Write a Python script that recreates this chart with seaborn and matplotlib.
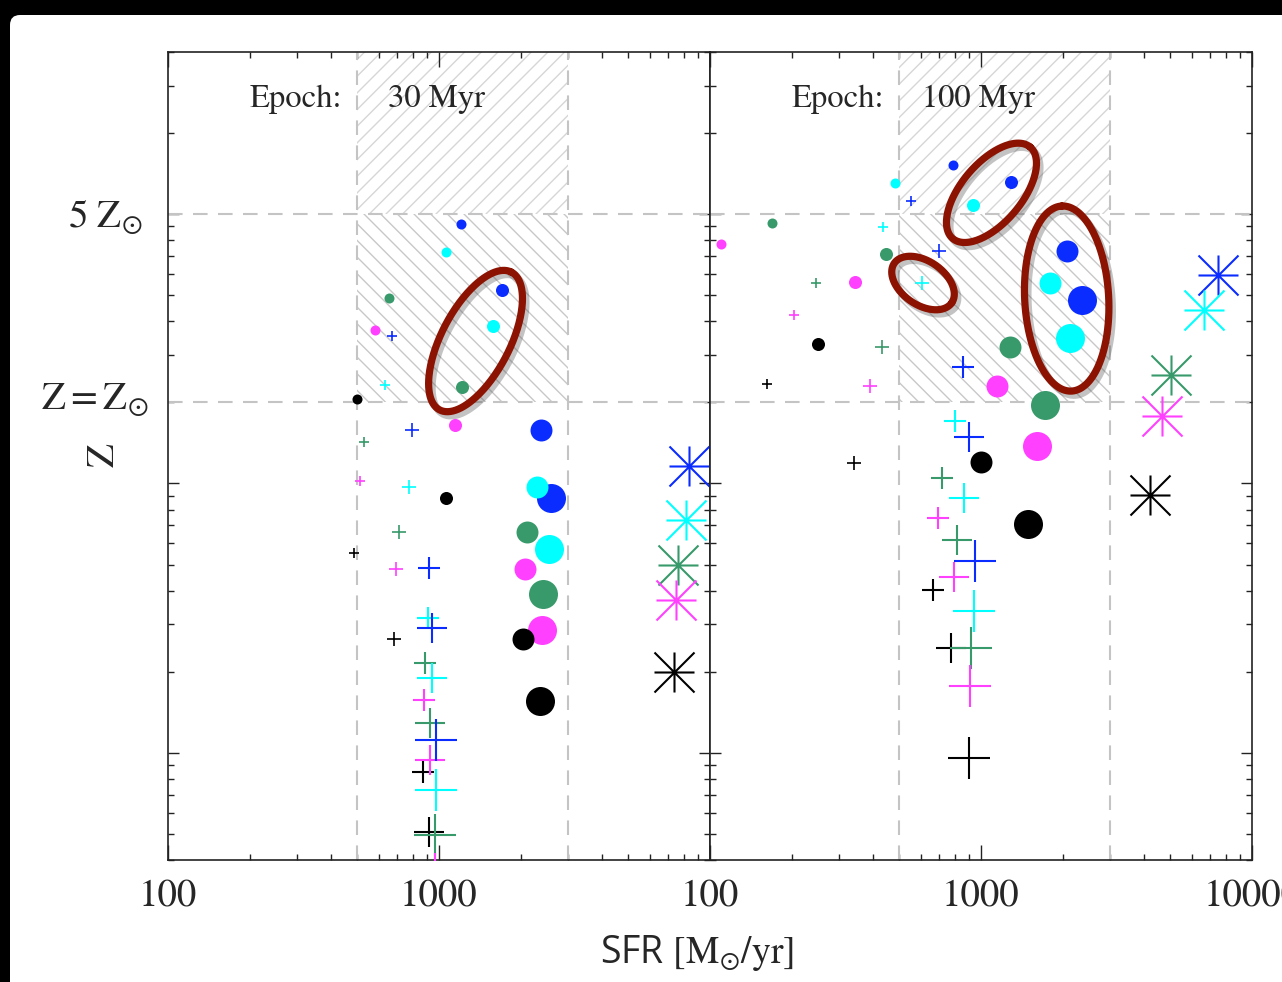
import numpy as np
import pandas as pd
import matplotlib
matplotlib.use('Agg')
import matplotlib.pyplot as plt
import matplotlib.patheffects as pe
from matplotlib.path import Path
from matplotlib.patches import Rectangle, FancyBboxPatch
from matplotlib.transforms import blended_transform_factory, ScaledTranslation
from matplotlib.ticker import FixedLocator, FixedFormatter, LogLocator, NullFormatter
import seaborn as sns

Z_SUN = 0.02

# marker kinds, in the order the values are listed below
kinds = ['dot_s', 'dot_m', 'plus_xs', 'plus_s', 'dot_l', 'dot_xl',
         'plus_m', 'plus_l', 'plus_xl', 'star']
models = ['blue', 'cyan', 'green', 'magenta', 'black']
palette = {'blue': '#0b2cff', 'cyan': '#00ffff', 'green': '#389a6b',
           'magenta': '#ff40ff', 'black': '#000000'}

# ---- Epoch 30 Myr : SFR [Msun/yr] and Z ----
sfr30_blue = [1210, 1715, 670, 795, 2370, 2600, 918, 946, 975, 8340]
z30_blue = [0.0918, 0.0524, 0.0352, 0.0158, 0.0158, 0.0088, 0.00484, 0.00291, 0.00112, 0.0116]
sfr30_cyan = [1065, 1585, 632, 774, 2300, 2550, 910, 941, 975, 8130]
z30_cyan = [0.0721, 0.0383, 0.0232, 0.0097, 0.0097, 0.0057, 0.00317, 0.0019, 0.00073, 0.0073]
sfr30_green = [653, 1214, 528, 712, 2114, 2417, 885, 926, 967, 7610]
z30_green = [0.0488, 0.0229, 0.0143, 0.0066, 0.0066, 0.0039, 0.00215, 0.00129, 0.000495, 0.0050]
sfr30_magenta = [579, 1142, 509, 694, 2077, 2401, 883, 923, 967, 7520]
z30_magenta = [0.0373, 0.0165, 0.0102, 0.0048, 0.0048, 0.00285, 0.00157, 0.00094, 0.000354, 0.0037]
sfr30_black = [497, 1062, 484, 680, 2033, 2367, 874, 921, np.nan, 7380]
z30_black = [0.0206, 0.0088, 0.0055, 0.00265, 0.00265, 0.00156, 0.00085, 0.00051, np.nan, 0.0020]

# ---- Epoch 100 Myr ----
sfr100_blue = [791, 1290, 551, 702, 2071, 2365, 860, 904, 953, 7505]
z100_blue = [0.152, 0.132, 0.112, 0.0729, 0.0729, 0.0481, 0.0271, 0.0149, 0.00517, 0.0594]
sfr100_cyan = [483, 936, 434, 606, 1793, 2138, 805, 868, 942, 6633]
z100_cyan = [0.130, 0.1085, 0.0895, 0.0553, 0.0557, 0.0348, 0.01705, 0.00884, 0.00335, 0.0442]
sfr100_green = [169, 446, 246, 432, 1275, 1726, 718, 815, 921, 5042]
z100_green = [0.0926, 0.0713, 0.0557, 0.0322, 0.0322, 0.0195, 0.01046, 0.00618, 0.00244, 0.0252]
sfr100_magenta = [110, 344, 204, 388, 1142, 1609, 693, 794, 912, 4648]
z100_magenta = [0.0776, 0.056, 0.0424, 0.0231, 0.0231, 0.0138, 0.00742, 0.0045, 0.00177, 0.0178]
sfr100_black = [np.nan, 251, 162, 341, 1003, 1492, 663, 777, 901, 4214]
z100_black = [np.nan, 0.0329, 0.0234, 0.0119, 0.0120, 0.00708, 0.00403, 0.00246, 0.00096, 0.00907]

# highlighted groups: centre SFR, centre Z, semi-axes (dex), angle (deg)
ell30 = [(1364, 0.0338, 0.288, 0.126, 62.7)]
ell100 = [(1093, 0.120, 0.222, 0.111, 50.0),
          (611, 0.0555, 0.129, 0.081, -35.0),
          (2071, 0.0486, 0.344, 0.155, 93.0)]


def build(epoch, sfrs, zs):
    frames = []
    for m in models:
        frames.append(pd.DataFrame({'epoch': epoch, 'model': m, 'kind': kinds,
                                    'sfr': sfrs[m], 'z': zs[m]}))
    return pd.concat(frames)


df = pd.concat([
    build('30 Myr',
          {'blue': sfr30_blue, 'cyan': sfr30_cyan, 'green': sfr30_green,
           'magenta': sfr30_magenta, 'black': sfr30_black},
          {'blue': z30_blue, 'cyan': z30_cyan, 'green': z30_green,
           'magenta': z30_magenta, 'black': z30_black}),
    build('100 Myr',
          {'blue': sfr100_blue, 'cyan': sfr100_cyan, 'green': sfr100_green,
           'magenta': sfr100_magenta, 'black': sfr100_black},
          {'blue': z100_blue, 'cyan': z100_cyan, 'green': z100_green,
           'magenta': z100_magenta, 'black': z100_black}),
]).dropna()

# asterisk marker: horizontal, vertical and two diagonal bars
star = Path([(-1, 0), (1, 0), (0, -1), (0, 1), (-1, -1), (1, 1), (-1, 1), (1, -1)],
            [Path.MOVETO, Path.LINETO] * 4)
style = {
    'dot_xl': dict(marker='o', s=436, linewidth=0),
    'dot_l': dict(marker='o', s=250, linewidth=0),
    'dot_m': dict(marker='o', s=88, linewidth=0),
    'dot_s': dict(marker='o', s=52, linewidth=0),
    'plus_xs': dict(marker='+', s=52, linewidth=1.2),
    'plus_s': dict(marker='+', s=94, linewidth=1.2),
    'plus_m': dict(marker='+', s=274, linewidth=1.5),
    'plus_l': dict(marker='+', s=467, linewidth=1.5),
    'plus_xl': dict(marker='+', s=872, linewidth=1.5),
    'star': dict(marker=star, s=830, linewidth=1.5),
}

sns.set_theme(style='ticks')
plt.rcParams['font.family'] = ['STIXGeneral', 'DejaVu Serif']
plt.rcParams['mathtext.fontset'] = 'stix'
plt.rcParams['hatch.linewidth'] = 1.0

fig = plt.figure(figsize=(12.82, 9.82), dpi=100)
fig.patch.set_facecolor('black')
card = FancyBboxPatch((0.10, -0.5), 13.5, 10.17,
                      boxstyle='round,pad=0,rounding_size=0.1',
                      transform=fig.dpi_scale_trans, facecolor='white',
                      edgecolor='none', zorder=-10)
fig.add_artist(card)

W, H = 1282, 982
ax1 = fig.add_axes([168 / W, 122 / H, 542 / W, 808 / H])
ax2 = fig.add_axes([710 / W, 122 / H, 542 / W, 808 / H])

for ax, epoch, ells in [(ax1, '30 Myr', ell30), (ax2, '100 Myr', ell100)]:
    ax.set_facecolor('white')
    ax.set_xscale('log')
    ax.set_yscale('log')

    # shaded SFR window
    ax.add_patch(Rectangle((500, 0.1), 2500, 0.3, facecolor='none', edgecolor='#d6d6d6',
                           hatch='//', lw=0, zorder=0.5))
    ax.add_patch(Rectangle((500, 0.02), 2500, 0.08, facecolor='none', edgecolor='#c8c8c8',
                           hatch='\\\\', lw=0, zorder=0.5))
    for xv in (500, 3000):
        ax.axvline(xv, color='#c4c4c4', lw=1.5, ls=(0, (7, 5)), zorder=1)
    for zv in (5 * Z_SUN, Z_SUN):
        ax.axhline(zv, color='#c4c4c4', lw=1.5, ls=(0, (7, 5)), zorder=1)

    d = df[df['epoch'] == epoch]
    for kind in style:
        for m in models:
            sub = d[(d['model'] == m) & (d['kind'] == kind)]
            if sub.empty:
                continue
            kw = dict(style[kind])
            if kind == 'star':
                kw['edgecolor'] = palette[m]
            sns.scatterplot(data=sub, x='sfr', y='z', ax=ax, color=palette[m],
                            legend=False, zorder=3, **kw)

    t = np.linspace(0, 2 * np.pi, 300)
    for sc, zc, a, b, ang in ells:
        th = np.deg2rad(ang)
        u, v = a * np.cos(t), b * np.sin(t)
        lx = np.log10(sc) + u * np.cos(th) - v * np.sin(th)
        ly = np.log10(zc) + u * np.sin(th) + v * np.cos(th)
        ax.plot(10 ** lx, 10 ** ly, color='#8c1302', lw=5.2, zorder=6,
                path_effects=[pe.SimpleLineShadow(offset=(2.5, -3), shadow_color='#555555',
                                                  alpha=0.35),
                              pe.Normal()])

    ax.set_xlim(100, 10000)
    ax.set_ylim(0.0004, 0.4)
    ax.set_xlabel('')
    ax.set_ylabel('')

    ax.xaxis.set_major_locator(FixedLocator([100, 1000, 10000]))
    labels = ['100', '1000', '10000'] if ax is ax2 else ['100', '1000', '']
    ax.xaxis.set_major_formatter(FixedFormatter(labels))
    ax.xaxis.set_minor_locator(LogLocator(base=10, subs=np.arange(2, 10)))
    ax.xaxis.set_minor_formatter(NullFormatter())
    ax.yaxis.set_major_locator(LogLocator(base=10))
    ax.yaxis.set_minor_locator(LogLocator(base=10, subs=np.arange(2, 10)))
    ax.yaxis.set_major_formatter(NullFormatter())
    ax.yaxis.set_minor_formatter(NullFormatter())

    ax.tick_params(which='both', direction='in', top=True, right=True,
                   color='#222222', width=1.0)
    ax.tick_params(axis='x', which='major', length=11, pad=14, labelsize=28)
    ax.tick_params(axis='y', which='major', length=8)
    ax.tick_params(which='minor', length=4.5)
    for sp in ax.spines.values():
        sp.set_color('#222222')
        sp.set_linewidth(1.2)

    ax.text(0.150, 0.932, 'Epoch:', transform=ax.transAxes, fontsize=23.5,
            ha='left', va='baseline', zorder=7)
    ax.text(0.405 if ax is ax1 else 0.391, 0.932, epoch, transform=ax.transAxes,
            fontsize=23.5, ha='left', va='baseline', zorder=7)

# metallicity markers on the left side
tr = blended_transform_factory(ax1.transAxes, ax1.transData)
ax1.text(-0.046, 5 * Z_SUN, r'$5\ \mathrm{Z}_{\odot}$', fontsize=28, ha='right', va='baseline',
         transform=tr + ScaledTranslation(0, -9 / 72, fig.dpi_scale_trans))
ax1.text(-0.037, Z_SUN, r'$\mathrm{Z}=\mathrm{Z}_{\odot}$', fontsize=28, ha='right',
         va='baseline', transform=tr + ScaledTranslation(0, -5 / 72, fig.dpi_scale_trans))
fig.text(104 / W, 1 - 455 / H, 'Z', rotation=90, fontsize=28, ha='center', va='center')

fig.text(697 / W, 1 - 963 / H, r'SFR $[\mathrm{M}_{\odot}/\mathrm{yr}]$',
         fontsize=27, family=['Open Sans', 'DejaVu Sans'], ha='center', va='baseline')

fig.savefig('out.png', dpi=100, facecolor=fig.get_facecolor())
